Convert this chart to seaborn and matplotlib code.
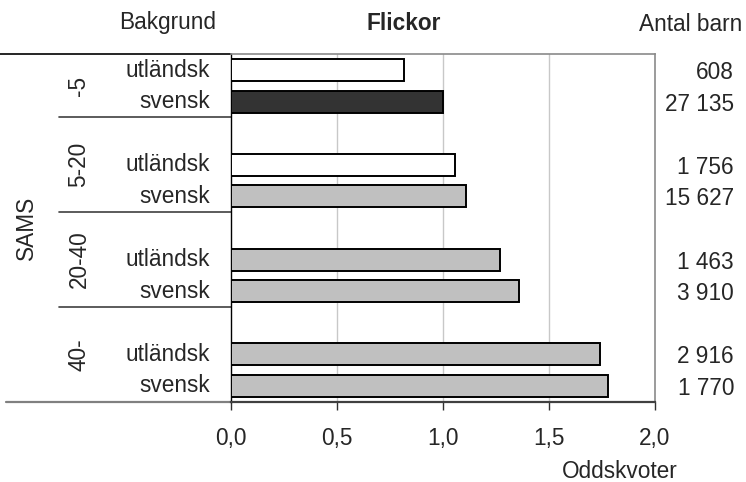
import matplotlib
matplotlib.use("Agg")
import matplotlib.pyplot as plt
import matplotlib.transforms as mtransforms
import seaborn as sns
import pandas as pd

# ---- data ----
sams_groups = ["-5", "5-20", "20-40", "40-"]
backgrounds = ["utländsk", "svensk"]
odds = [0.82, 1.00, 1.06, 1.11, 1.27, 1.36, 1.74, 1.78]
antal_barn = ["608", "27 135", "1 756", "15 627", "1 463", "3 910", "2 916", "1 770"]
bar_colors = ["#ffffff", "#333333", "#ffffff", "#c0c0c0",
              "#c0c0c0", "#c0c0c0", "#c0c0c0", "#c0c0c0"]
xticks = [0.0, 0.5, 1.0, 1.5, 2.0]
xticklabels = ["0,0", "0,5", "1,0", "1,5", "2,0"]

# ---- build category slots (with empty gap slots between SAMS groups) ----
keys, bgs, order = [], [], []
for gi, g in enumerate(sams_groups):
    if gi > 0:
        order.append(f"gap{gi}")
    for b in backgrounds:
        k = f"{g} {b}"
        keys.append(k)
        bgs.append(b)
        order.append(k)
df = pd.DataFrame({"slot": keys, "odds": odds, "bakgrund": bgs, "antal": antal_barn})
palette = dict(zip(keys, bar_colors))

sns.set_theme(style="white")
plt.rcParams["font.family"] = ["Liberation Sans", "DejaVu Sans"]
FS = 16.3

W, H = 746, 482
fig = plt.figure(figsize=(W / 100, H / 100), dpi=100)
left_px, right_px, top_px, bot_px = 230.5, 654.7, 54.3, 401.7
ax = fig.add_axes([left_px / W, 1 - bot_px / H, (right_px - left_px) / W, (bot_px - top_px) / H])

sns.barplot(data=df, x="odds", y="slot", order=order, hue="slot", palette=palette,
            orient="h", width=0.7, saturation=1, edgecolor="black", linewidth=1.4,
            legend=False, ax=ax, zorder=3)

ax.set_xlim(0, 2.0)
ax.set_xticks(xticks)
ax.set_xticklabels(xticklabels, fontsize=FS)
ax.set_yticks([])
ax.set_xlabel("")
ax.set_ylabel("")
ax.grid(False)
for xv in xticks[1:-1]:
    ax.axvline(xv, color="#c8c8c8", lw=1.0, zorder=1)
ax.tick_params(axis="x", direction="out", length=5.5, width=1.0, color="#303030",
               pad=13, bottom=True)
for s in ["top", "right"]:
    ax.spines[s].set_color("#8a8a8a")
    ax.spines[s].set_linewidth(1.2)
ax.spines["left"].set_color("black")
ax.spines["left"].set_linewidth(1.0)
ax.spines["bottom"].set_color("#404040")
ax.spines["bottom"].set_linewidth(1.6)

# ---- left multi-level category area ----
tr = mtransforms.blended_transform_factory(fig.transFigure, ax.transData)
pos = {k: order.index(k) for k in keys}
for k, b in zip(keys, bgs):
    ax.text(210 / W, pos[k], b, transform=tr, ha="right", va="center",
            fontsize=FS, clip_on=False)

ylo, yhi = ax.get_ylim()  # (10.5, -0.5)
ax.add_line(plt.Line2D([0, left_px / W], [yhi, yhi], transform=tr, color="black",
                       lw=1.2, clip_on=False))
ax.add_line(plt.Line2D([6 / W, left_px / W], [ylo, ylo], transform=tr, color="#808080",
                       lw=1.6, clip_on=False))
for gi, g in enumerate(sams_groups):
    if gi > 0:
        sep = order.index(f"gap{gi}") - 0.5
        ax.add_line(plt.Line2D([59 / W, left_px / W], [sep, sep], transform=tr,
                               color="#404040", lw=1.2, clip_on=False))
    lo = yhi if gi == 0 else order.index(f"gap{gi}") - 0.5
    hi = (order.index(f"gap{gi + 1}") - 0.5) if gi < len(sams_groups) - 1 else ylo
    ax.text(79 / W, (lo + hi) / 2, g, transform=tr, ha="center", va="center",
            rotation=90, fontsize=FS, clip_on=False)

fig.text(26 / W, 1 - ((top_px + bot_px) / 2) / H, "SAMS", rotation=90,
         ha="center", va="center", fontsize=FS)

# ---- right labels ----
for k, n in zip(keys, antal_barn):
    ax.text(734 / W, pos[k], n, transform=tr, ha="right", va="center_baseline",
            fontsize=FS, clip_on=False)

# ---- headers ----
fig.text(168 / W, 1 - 29.5 / H, "Bakgrund", ha="center", va="baseline", fontsize=FS)
fig.text(403.5 / W, 1 - 30.5 / H, "Flickor", ha="center", va="baseline",
         fontsize=FS, fontweight="bold")
fig.text(742 / W, 1 - 31 / H, "Antal barn", ha="right", va="baseline", fontsize=FS)
fig.text(620 / W, 1 - 478 / H, "Oddskvoter", ha="center", va="baseline", fontsize=FS)

fig.savefig("out.png", dpi=100, facecolor="white")
